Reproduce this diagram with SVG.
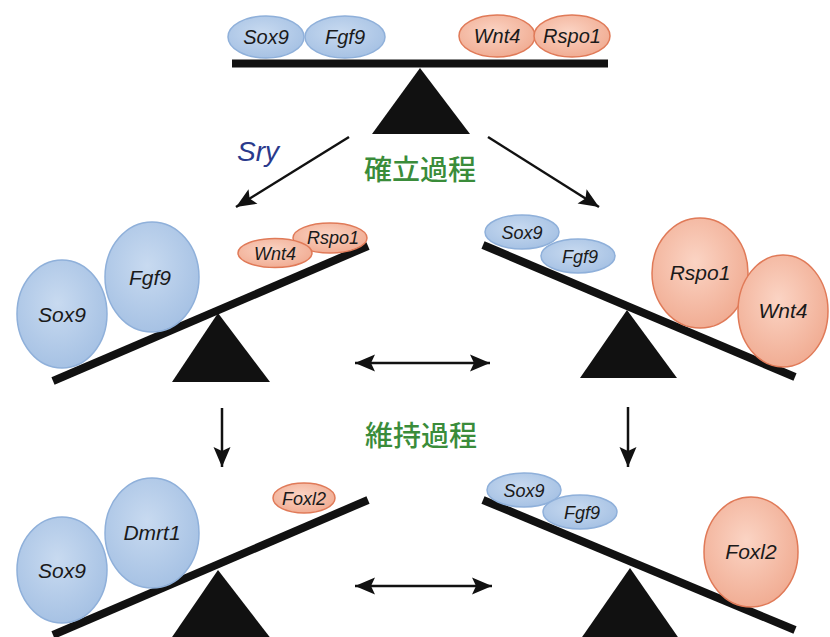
<svg xmlns="http://www.w3.org/2000/svg" width="830" height="637" viewBox="0 0 830 637">
  <defs>
    <radialGradient id="gBlue" cx="0.45" cy="0.4" r="0.65">
      <stop offset="0" stop-color="#c8daf0"/>
      <stop offset="1" stop-color="#a4c0e3"/>
    </radialGradient>
    <radialGradient id="gRed" cx="0.45" cy="0.4" r="0.65">
      <stop offset="0" stop-color="#fbd4c4"/>
      <stop offset="1" stop-color="#f0aa90"/>
    </radialGradient>
    <marker id="barb" viewBox="-21 -10 22 20" markerWidth="22" markerHeight="20" refX="0" refY="0" orient="auto-start-reverse" markerUnits="userSpaceOnUse">
      <path d="M0,0 L-20,-8.5 L-16,0 L-20,8.5 Z" fill="#111"/>
    </marker>
  </defs>
  <style>
    .blue { fill: url(#gBlue); stroke: #8fb0da; stroke-width: 1.5; }
    .red { fill: url(#gRed); stroke: #e07a58; stroke-width: 1.5; }
    .gene { font-family: "Liberation Sans", Arial, sans-serif; font-style: italic; fill: #1a1a1a; text-anchor: middle; }
    .beam { stroke: #111; stroke-width: 8; stroke-linecap: butt; }
    .pivot { fill: #111; }
    .conn { stroke: #111; stroke-width: 2.5; fill: none; }
    .stage { font-family: "Noto Sans CJK JP", "Noto Sans CJK SC", sans-serif; font-size: 28px; fill: #3a8c3a; text-anchor: middle; font-weight: 500; }
  </style>

  <rect width="830" height="637" fill="#ffffff"/>

  <!-- top: balanced state -->
  <g id="balance-top">
    <line class="beam" x1="232" y1="63.5" x2="608" y2="63.5"/>
    <polygon class="pivot" points="420,68 372,134 470,134"/>
  </g>
  <g id="top-sox9"><ellipse class="blue" cx="266" cy="37" rx="38" ry="21"/><text class="gene" x="266" y="44" font-size="20">Sox9</text></g>
  <g id="top-fgf9"><ellipse class="blue" cx="345" cy="37" rx="40" ry="21"/><text class="gene" x="345" y="44" font-size="20">Fgf9</text></g>
  <g id="top-wnt4"><ellipse class="red" cx="497" cy="36" rx="38" ry="21"/><text class="gene" x="497" y="43" font-size="20">Wnt4</text></g>
  <g id="top-rspo1"><ellipse class="red" cx="572" cy="36" rx="38" ry="21"/><text class="gene" x="572" y="43" font-size="20">Rspo1</text></g>

  <!-- middle left: male side -->
  <g id="balance-mid-left">
    <line class="beam" x1="53" y1="381" x2="368" y2="246"/>
    <polygon class="pivot" points="218,313 172,382 270,382"/>
  </g>
  <g id="ml-sox9"><ellipse class="blue" cx="62" cy="314" rx="45" ry="54"/><text class="gene" x="62" y="322" font-size="21">Sox9</text></g>
  <g id="ml-fgf9"><ellipse class="blue" cx="152" cy="277" rx="47" ry="55"/><text class="gene" x="150" y="285" font-size="21">Fgf9</text></g>
  <g id="ml-rspo1"><ellipse class="red" cx="330" cy="238" rx="37" ry="15"/><text class="gene" x="333" y="244" font-size="18">Rspo1</text></g>
  <g id="ml-wnt4"><ellipse class="red" cx="275" cy="253" rx="37" ry="14.5"/><text class="gene" x="275" y="260" font-size="18">Wnt4</text></g>

  <!-- middle right: female side -->
  <g id="balance-mid-right">
    <line class="beam" x1="483" y1="245" x2="795" y2="377"/>
    <polygon class="pivot" points="627,310 580,378 677,378"/>
  </g>
  <g id="mr-sox9"><ellipse class="blue" cx="522" cy="232" rx="37" ry="17"/><text class="gene" x="522" y="239" font-size="18">Sox9</text></g>
  <g id="mr-fgf9"><ellipse class="blue" cx="578" cy="256" rx="37" ry="17"/><text class="gene" x="580" y="263" font-size="18">Fgf9</text></g>
  <g id="mr-rspo1"><ellipse class="red" cx="700" cy="273" rx="48" ry="55"/><text class="gene" x="700" y="280" font-size="21">Rspo1</text></g>
  <g id="mr-wnt4"><ellipse class="red" cx="783" cy="311" rx="45" ry="56"/><text class="gene" x="783" y="318" font-size="21">Wnt4</text></g>

  <!-- bottom left: maintained male -->
  <g id="balance-bot-left">
    <line class="beam" x1="53" y1="635" x2="368" y2="500"/>
    <polygon class="pivot" points="218,570 170,640 272,640"/>
  </g>
  <g id="bl-sox9"><ellipse class="blue" cx="62" cy="570" rx="45" ry="53"/><text class="gene" x="62" y="578" font-size="21">Sox9</text></g>
  <g id="bl-dmrt1"><ellipse class="blue" cx="152" cy="533" rx="47" ry="55"/><text class="gene" x="152" y="540" font-size="21">Dmrt1</text></g>
  <g id="bl-foxl2"><ellipse class="red" cx="304" cy="498" rx="31" ry="15"/><text class="gene" x="304" y="505" font-size="18">Foxl2</text></g>

  <!-- bottom right: maintained female -->
  <g id="balance-bot-right">
    <line class="beam" x1="483" y1="500" x2="795" y2="630"/>
    <polygon class="pivot" points="630,568 580,640 680,640"/>
  </g>
  <g id="br-sox9"><ellipse class="blue" cx="524" cy="490" rx="37" ry="17"/><text class="gene" x="524" y="497" font-size="18">Sox9</text></g>
  <g id="br-fgf9"><ellipse class="blue" cx="580" cy="512" rx="37" ry="17"/><text class="gene" x="582" y="519" font-size="18">Fgf9</text></g>
  <g id="br-foxl2"><ellipse class="red" cx="751" cy="552" rx="47" ry="55"/><text class="gene" x="751" y="559" font-size="21">Foxl2</text></g>

  <!-- connectors -->
  <g id="connectors">
    <line class="conn" x1="349" y1="137" x2="236" y2="207" marker-end="url(#barb)"/>
    <line class="conn" x1="488" y1="137" x2="599" y2="207" marker-end="url(#barb)"/>
    <line class="conn" x1="355" y1="363" x2="490" y2="363" marker-start="url(#barb)" marker-end="url(#barb)"/>
    <line class="conn" x1="222" y1="408" x2="222" y2="467" marker-end="url(#barb)"/>
    <line class="conn" x1="628" y1="407" x2="628" y2="467" marker-end="url(#barb)"/>
    <line class="conn" x1="355" y1="586" x2="492" y2="586" marker-start="url(#barb)" marker-end="url(#barb)"/>
  </g>

  <!-- labels -->
  <g id="labels">
    <text x="237" y="161" font-family="Liberation Sans, Arial, sans-serif" font-style="italic" font-size="28" fill="#2a3a8c">Sry</text>
    <text class="stage" x="420" y="180">確立過程</text>
    <text class="stage" x="421" y="446">維持過程</text>
  </g>
</svg>
